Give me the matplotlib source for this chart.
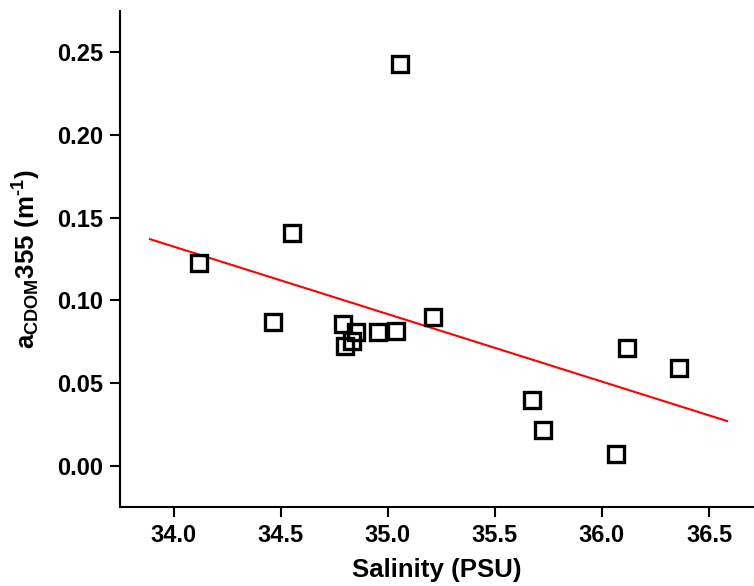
import matplotlib
matplotlib.use("Agg")
import matplotlib.pyplot as plt

plt.rcParams['font.family'] = ['Liberation Sans', 'DejaVu Sans']
plt.rcParams['font.weight'] = 'bold'
plt.rcParams['mathtext.fontset'] = 'custom'
plt.rcParams['mathtext.rm'] = 'Liberation Sans:bold'
plt.rcParams['mathtext.bf'] = 'Liberation Sans:bold'
plt.rcParams['mathtext.it'] = 'Liberation Sans:bold'

salinity = [34.118, 34.552, 34.465, 34.789, 34.800, 34.835, 34.851, 34.956,
            35.037, 35.212, 35.057, 35.674, 35.725, 36.065, 36.115, 36.358]
acdom = [0.1224, 0.141, 0.0868, 0.0856, 0.0721, 0.0755, 0.0811, 0.0806,
         0.0816, 0.0901, 0.243, 0.0399, 0.0214, 0.0072, 0.0710, 0.0592]
fit_x = [33.89, 36.584]
fit_y = [0.137, 0.0270]
xticks = [34.0, 34.5, 35.0, 35.5, 36.0, 36.5]
yticks = [0.00, 0.05, 0.10, 0.15, 0.20, 0.25]

fig = plt.figure(figsize=(7.54, 5.86), dpi=100)
ax = fig.add_axes([120/754, 79/586, 1 - 120/754, (507 - 11)/586])

ax.plot(fit_x, fit_y, color='red', lw=1.5, zorder=2)
ax.plot(salinity, acdom, linestyle='none', marker='s', markersize=12,
        markerfacecolor='none', markeredgecolor='black', markeredgewidth=2.4, zorder=3)

ax.set_xlim(33.75, 36.71)
ax.set_ylim(-0.025, 0.275)
ax.set_xticks(xticks)
ax.set_xticklabels([f"{v:.1f}" for v in xticks])
ax.set_yticks(yticks)
ax.set_yticklabels([f"{v:.2f}" for v in yticks])

for s in ['top', 'right']:
    ax.spines[s].set_visible(False)
for s in ['left', 'bottom']:
    ax.spines[s].set_linewidth(1.5)

ax.tick_params(axis='both', direction='out', length=7.2, width=1.5,
               labelsize=17, pad=5)
for lab in ax.get_xticklabels() + ax.get_yticklabels():
    lab.set_fontweight('bold')

ax.set_xlabel('Salinity (PSU)', fontsize=18.6, fontweight='bold', labelpad=8)
ax.set_ylabel('$\\mathbf{a_{CDOM}355\\ (m^{\u20101})}$',
              fontsize=18.6, labelpad=10)

fig.savefig('out.png', dpi=100)
